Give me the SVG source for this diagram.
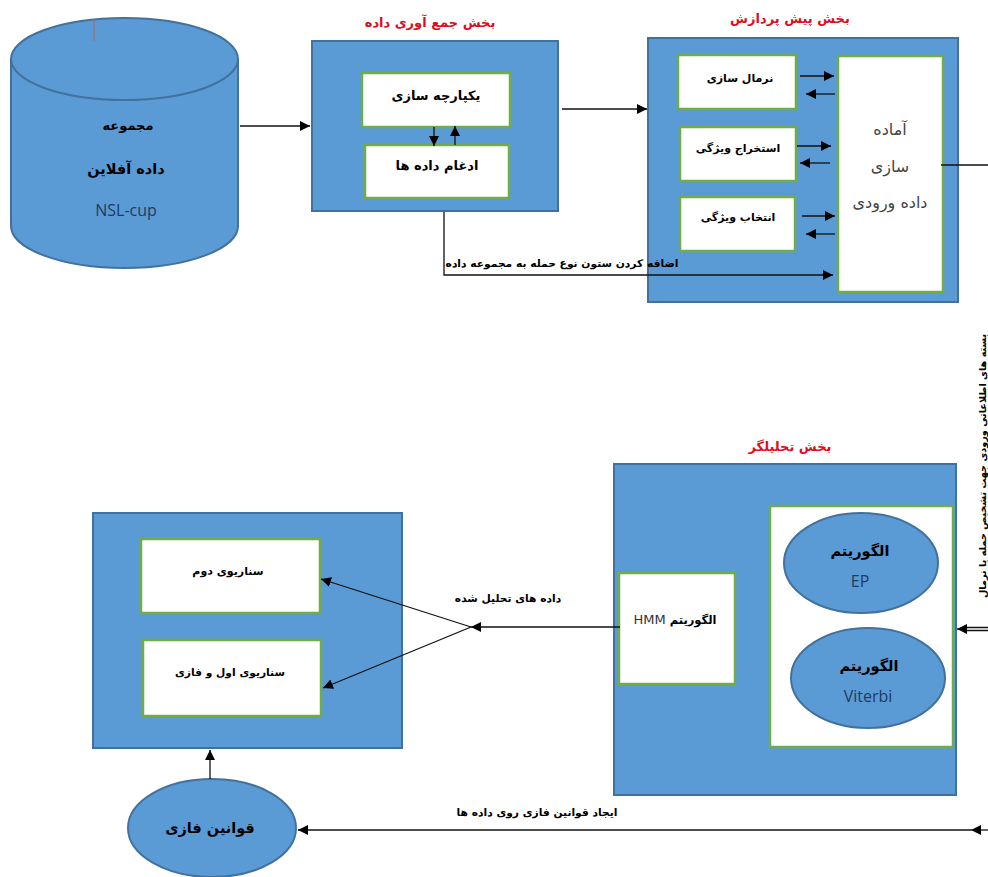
<svg xmlns="http://www.w3.org/2000/svg" width="988" height="877" viewBox="0 0 988 877">
<style>
text{font-family:"DejaVu Sans","Noto Sans",sans-serif;text-anchor:middle;direction:rtl;fill:#000;font-weight:bold}
.t{fill:#e00b1c;font-size:13px}
.m{font-size:13px}
.b{font-size:14.500px}
.s{font-size:11px}
.x{font-size:10.700px}
.r{font-weight:normal;fill:#444;font-size:16px}
.l{font-weight:normal;fill:#1f3a5f;font-size:16px;font-family:"Open Sans","Noto Sans",sans-serif;direction:ltr}
.p{fill:#5b9bd5;stroke:#41719c;stroke-width:2}
.w{fill:#fff;stroke:#70ad47;stroke-width:2.500}
.c line,.c path{stroke:#111;stroke-width:1.300;fill:none;marker-end:url(#a)}
.n{marker-end:none!important}
</style>
<defs>
<marker id="a" markerUnits="userSpaceOnUse" markerWidth="11" markerHeight="10" refX="10" refY="5" orient="auto"><path d="M0 0L10 5L0 10z" fill="#000"/></marker>
</defs>
<rect width="988" height="877" fill="#fff"/>
<g id="dataset">
<path class="p" d="M11 59V226C11 249 62 268 124.500 268S238 249 238 226V59"/>
<ellipse class="p" cx="124.500" cy="59" rx="113.500" ry="41"/>
<line x1="94" y1="19" x2="94" y2="41" stroke="#b0625a" stroke-width="1"/>
<text class="m" x="128" y="130">مجموعه</text>
<text class="b" x="126" y="174">داده آفلاین</text>
<text class="l" x="126" y="216">NSL-cup</text>
</g>
<g id="collection">
<text class="t" x="430" y="27">بخش جمع آوری داده</text>
<rect class="p" x="312" y="41" width="246" height="170"/>
<rect class="w" x="362" y="73" width="148" height="54"/>
<text class="m" x="436" y="100">یکپارچه سازی</text>
<rect class="w" x="365" y="145" width="144" height="53"/>
<text class="m" x="437" y="170">ادغام داده ها</text>
</g>
<g id="preprocess">
<text class="t" x="790" y="23">بخش پیش پردازش</text>
<rect class="p" x="648" y="38" width="310" height="264"/>
<rect class="w" x="678" y="55" width="118" height="54"/>
<text class="s" x="740" y="82">نرمال سازی</text>
<rect class="w" x="680" y="127" width="116" height="54"/>
<text class="s" x="738" y="152">استخراج ویژگی</text>
<rect class="w" x="680" y="197" width="115" height="54"/>
<text class="s" x="738" y="221">انتخاب ویژگی</text>
<rect class="w" x="838" y="56" width="105" height="236"/>
<text class="r" x="890" y="135">آماده</text>
<text class="r" x="890" y="172">سازی</text>
<text class="r" x="890" y="208">داده ورودی</text>
</g>
<g id="analyzer">
<text class="t" x="790" y="451">بخش تحلیلگر</text>
<rect class="p" x="614" y="464" width="342" height="331"/>
<rect class="w" x="770" y="506" width="183" height="241"/>
<rect class="w" x="619" y="573" width="116" height="111"/>
<text x="675" y="624" font-size="11.500">الگوریتم <tspan font-weight="normal" fill="#333" font-size="13">HMM</tspan></text>
<ellipse class="p" cx="861" cy="563" rx="77" ry="50"/>
<text class="b" x="860" y="556">الگوریتم</text>
<text class="l" x="860" y="587">EP</text>
<ellipse class="p" cx="868" cy="678" rx="77" ry="50"/>
<text class="b" x="869" y="671">الگوریتم</text>
<text class="l" x="868" y="702" font-size="17">Viterbi</text>
</g>
<g id="scenarios">
<rect class="p" x="93" y="513" width="309" height="235"/>
<rect class="w" x="141" y="539" width="179" height="74"/>
<text class="s" x="228" y="575">سناریوی دوم</text>
<rect class="w" x="143" y="640" width="178" height="76"/>
<text class="x" x="230" y="676">سناریوی اول و فازی</text>
</g>
<g id="rules">
<ellipse class="p" cx="212" cy="828" rx="84" ry="49"/>
<text class="b" x="210" y="833">قوانین فازی</text>
</g>
<g id="connectors" class="c">
<line x1="240" y1="126" x2="310" y2="126"/>
<line x1="562" y1="109" x2="647" y2="109"/>
<line x1="434" y1="127" x2="434" y2="146"/>
<line x1="455" y1="145" x2="455" y2="126"/>
<line x1="800" y1="76" x2="834" y2="76"/>
<line x1="835" y1="94" x2="806" y2="94"/>
<line x1="797" y1="146" x2="831" y2="146"/>
<line x1="830" y1="163" x2="800" y2="163"/>
<line x1="802" y1="216" x2="835" y2="216"/>
<line x1="835" y1="234" x2="806" y2="234"/>
<path d="M444 212V275H833"/>
<line class="n" x1="941" y1="165" x2="988" y2="165"/>
<path class="n" d="M988 627.500H966M988 630.500H966"/>
<line x1="966" y1="629" x2="957" y2="629"/>
<line x1="620" y1="627" x2="471" y2="627"/>
<line x1="471" y1="627" x2="321" y2="579"/>
<line x1="471" y1="627" x2="323" y2="688"/>
<line x1="210" y1="779" x2="210" y2="750"/>
<line x1="988" y1="830" x2="971" y2="830"/>
<line x1="971" y1="830" x2="298" y2="830"/>
</g>
<g id="labels">
<text class="x" x="562" y="267">اضافه کردن ستون نوع حمله به مجموعه داده</text>
<text class="x" x="508" y="602">داده های تحلیل شده</text>
<text class="x" x="537" y="816">ایجاد قوانین فازی روی داده ها</text>
<text transform="translate(986 466) rotate(-90)" font-size="9.700">بسته های اطلاعاتی ورودی جهت تشخیص حمله یا نرمال</text>
</g>
</svg>
